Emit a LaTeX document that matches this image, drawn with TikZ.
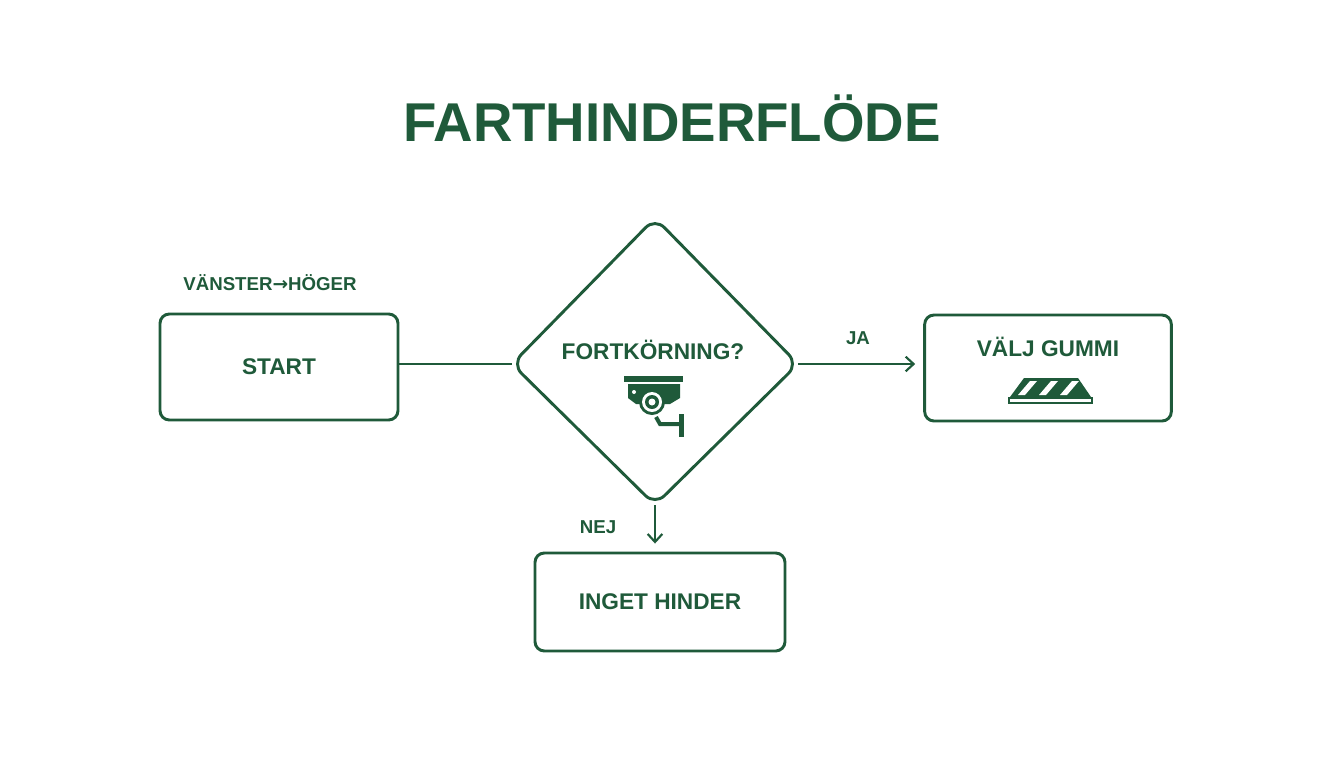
\documentclass[tikz,border=0pt]{standalone}
\usepackage{fontspec}
\usetikzlibrary{arrows.meta}
\setmainfont{Liberation Sans}
\newfontfamily\djv{DejaVu Sans}
\definecolor{dg}{HTML}{1F5A3A}
\begin{document}
\begin{tikzpicture}[x=0.75pt,y=-0.75pt,
  box/.style={draw=dg,line width=2.2pt,rounded corners=7pt},
  txt/.style={text=dg,font=\bfseries\fontsize{17}{20}\selectfont},
  conn/.style={draw=dg,line width=1.6pt},
  lbl/.style={text=dg,font=\bfseries\fontsize{14}{16}\selectfont}]
\fill[white] (0,0) rectangle (1344,768);
\useasboundingbox (0,0) rectangle (1344,768);
\node[text=dg,font=\bfseries\fontsize{41}{46}\selectfont] (title) at (672,118) {FARTHINDERFLÖDE};
\node[lbl] (dir) at (270,283) {VÄNSTER{\djv →}HÖGER};
\node[box,minimum width=178.5pt,minimum height=79.5pt] (start) at (279,367) {};
\node[txt] (startt) at (start) {START};
\coordinate (dt) at (655,218); \coordinate (dr) at (798,364);
\coordinate (db) at (655,505); \coordinate (dl) at (512,364);
\draw[draw=dg,line width=2.2pt,rounded corners=10pt] (dt) -- (dr) -- (db) -- (dl) -- cycle;
\node[txt] (q) at (653,350) {FORTKÖRNING?};
\node[box,minimum width=185pt,minimum height=79.5pt] (ja) at (1048,368) {};
\node[txt] (jat) at (1048,347) {VÄLJ GUMMI};
\node[box,minimum width=187.5pt,minimum height=73.5pt] (nej) at (660,602) {};
\node[txt] (nejt) at (nej) {INGET HINDER};
\draw[conn] (start.east |- dl) -- (dl);
\draw[conn,-{Straight Barb[length=6pt,width=11pt]}] (dr) -- ([xshift=-6]ja.west |- dr);
\draw[conn,-{Straight Barb[length=6pt,width=11pt]}] (db) -- ([yshift=6]db |- nej.north);
\node[lbl] (jal) at (858,338) {JA};
\node[lbl] (nejl) at (598,527) {NEJ};
% camera
\fill[dg] (624,376) rectangle (683,382);
\fill[dg] (628,384) -- (680,384) -- (680,398) -- (670,404) -- (636,404) -- (628,398) -- cycle;
\fill[white] (634,392) circle (2);
\fill[dg] (652,402) circle (13);
\fill[white] (652,402) circle (10);
\fill[dg] (652,402) circle (7);
\fill[white] (652,402) circle (3.5);
\draw[dg,line width=3pt] (656,417) -- (660,424) -- (679,424);
\fill[dg] (679,414) rectangle (684,437);
% speed bump
\fill[dg] (1010,397) -- (1024,378) -- (1078,378) -- (1091,397) -- cycle;
\foreach \s in {0,21,42}{
  \fill[white] (1018+\s,395) -- (1030+\s,381) -- (1037+\s,381) -- (1025+\s,395) -- cycle;}
\draw[dg,line width=1.5pt] (1009,398) rectangle (1092,403);
\end{tikzpicture}
\end{document}
